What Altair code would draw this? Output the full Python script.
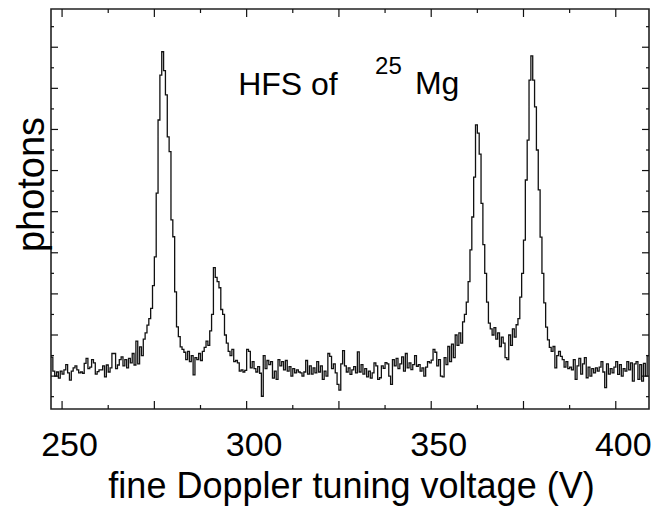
import altair as alt
import pandas as pd

# ---------------- data ----------------
x_start = 247.0      # first bin (V)
bin_width = 0.5      # V per channel
photons = [
    146, 112, 100, 110, 95, 112, 105, 115, 128, 108,
    90, 112, 120, 125, 115, 108, 110, 107, 131, 143,
    118, 122, 140, 132, 105, 111, 115, 115, 125, 98,
    127, 110, 120, 155, 155, 118, 127, 140, 147, 125,
    140, 120, 143, 132, 155, 127, 185, 130, 171, 150,
    190, 205, 224, 240, 265, 320, 390, 545, 723, 832,
    889, 843, 784, 682, 646, 480, 439, 305, 220, 196,
    171, 165, 158, 140, 160, 135, 150, 103, 145, 140,
    155, 138, 160, 170, 185, 175, 210, 250, 364, 340,
    330, 315, 262, 250, 200, 180, 160, 150, 165, 135,
    138, 132, 112, 115, 110, 114, 165, 160, 120, 135,
    118, 110, 123, 107, 51, 150, 118, 138, 128, 135,
    95, 112, 92, 140, 125, 135, 115, 138, 112, 123,
    100, 118, 108, 115, 110, 108, 100, 110, 138, 105,
    125, 105, 120, 108, 135, 110, 125, 92, 112, 100,
    155, 148, 118, 130, 108, 80, 66, 130, 162, 125,
    110, 120, 104, 115, 123, 108, 159, 110, 128, 105,
    118, 98, 112, 95, 108, 132, 125, 92, 96, 125,
    119, 133, 130, 100, 80, 140, 125, 143, 118, 130,
    147, 112, 155, 120, 132, 116, 128, 150, 124, 128,
    112, 120, 100, 122, 135, 132, 139, 165, 158, 125,
    140, 100, 98, 145, 128, 172, 135, 178, 145, 200,
    175, 205, 180, 232, 250, 280, 330, 407, 487, 584,
    711, 691, 640, 520, 420, 350, 280, 229, 215, 200,
    218, 190, 205, 172, 195, 180, 145, 140, 200, 175,
    215, 195, 225, 240, 292, 350, 431, 577, 674, 820,
    879, 820, 755, 650, 553, 438, 350, 278, 219, 188,
    170, 160, 172, 120, 150, 160, 148, 140, 122, 135,
    118, 122, 115, 140, 92, 125, 143, 105, 130, 145,
    96, 122, 100, 118, 108, 120, 112, 122, 135, 110,
    72, 130, 105, 118, 108, 122, 135, 104, 128, 100,
    118, 112, 135, 115, 132, 88, 130, 135, 92, 128,
    88, 131, 100, 150,
]

x_domain = [247, 409]
y_domain = [20, 993]
x_label_values = [250, 300, 350, 400]
x_major_ticks = [250, 275, 300, 325, 350, 375, 400]
x_minor_ticks = [262.5, 287.5, 312.5, 337.5, 362.5, 387.5]
y_major_ticks = [100, 200, 300, 400, 500, 600, 700, 800, 900]
y_minor_ticks = [50, 150, 250, 350, 450, 550, 650, 750, 850, 950]

ann_text = ["HFS of", "25", "Mg"]
ann_x = [297.7, 334.8, 345.6]
ann_y = [783, 835, 787]
ann_size = [32, 24, 32]

# ---------------- layout ----------------
W, H = 598, 400
FONT = "Liberation Sans"
INK = "#111111"

volts = [x_start + bin_width * i for i in range(len(photons))]
line_df = pd.DataFrame({
    "x": volts + [x_domain[1]],
    "y": photons + [photons[-1]],
})

xscale = alt.Scale(domain=x_domain, nice=False, zero=False)
yscale = alt.Scale(domain=y_domain, nice=False, zero=False)

AX_X = alt.Axis(
    values=x_label_values, format="d", ticks=False, tickSize=0,
    domain=False, grid=False, labelFlush=False, labelOverlap=False,
    labelFont=FONT, labelFontSize=34, labelColor="black",
    labelBaseline="alphabetic", labelPadding=46, labelOffset=7,
    title="fine Doppler tuning voltage (V)", titleFont=FONT,
    titleFontSize=36, titleFontWeight="normal", titleColor="black",
    titleX=300, titleY=88, titleAlign="center", titleBaseline="alphabetic",
)
AX_Y = alt.Axis(
    labels=False, ticks=False, tickSize=0, domain=False, grid=False,
    title="photons", titleFont=FONT, titleFontSize=38,
    titleFontWeight="normal", titleColor="black", titleAngle=270,
    titleX=-8, titleY=175, titleAlign="center", titleBaseline="alphabetic",
)

def X(field="x"):
    return alt.X(f"{field}:Q", scale=xscale, axis=AX_X)

def Y(field="y"):
    return alt.Y(f"{field}:Q", scale=yscale, axis=AX_Y)

spectrum = alt.Chart(line_df).mark_line(
    interpolate="step-after", color=INK, strokeWidth=1.3, clip=True
).encode(x=X(), y=Y())

def xticks(vals, length):
    d = pd.DataFrame({"x": vals})
    bottom = alt.Chart(d).mark_rule(color=INK, strokeWidth=1.2).encode(
        x=X(), y=alt.value(H), y2=alt.value(H - length))
    top = alt.Chart(d).mark_rule(color=INK, strokeWidth=1.2).encode(
        x=X(), y=alt.value(0), y2=alt.value(length))
    return [bottom, top]

def yticks(vals, length):
    d = pd.DataFrame({"y": vals})
    left = alt.Chart(d).mark_rule(color=INK, strokeWidth=1.2).encode(
        y=Y(), x=alt.value(0), x2=alt.value(length))
    right = alt.Chart(d).mark_rule(color=INK, strokeWidth=1.2).encode(
        y=Y(), x=alt.value(W), x2=alt.value(W - length))
    return [left, right]

ann_df = pd.DataFrame({"text": ann_text, "x": ann_x, "y": ann_y, "fs": ann_size})
annotation = alt.Chart(ann_df).mark_text(
    align="left", baseline="alphabetic", font=FONT, color="black"
).encode(
    x=X(), y=Y(),
    text="text:N",
    size=alt.Size("fs:Q", scale=None, legend=None),
)

layers = [spectrum] + xticks(x_major_ticks, 8) + xticks(x_minor_ticks, 4) \
    + yticks(y_major_ticks, 7) + yticks(y_minor_ticks, 3) + [annotation]

chart = alt.layer(*layers).properties(
    width=W, height=H,
    autosize=alt.AutoSizeParams(type="none"),
    padding={"left": 51, "top": 9, "right": 9, "bottom": 98},
    background="white",
).configure_view(stroke="#222222", strokeWidth=1.6)

chart.save("out.html", embed_options={"renderer": "svg", "actions": False})
